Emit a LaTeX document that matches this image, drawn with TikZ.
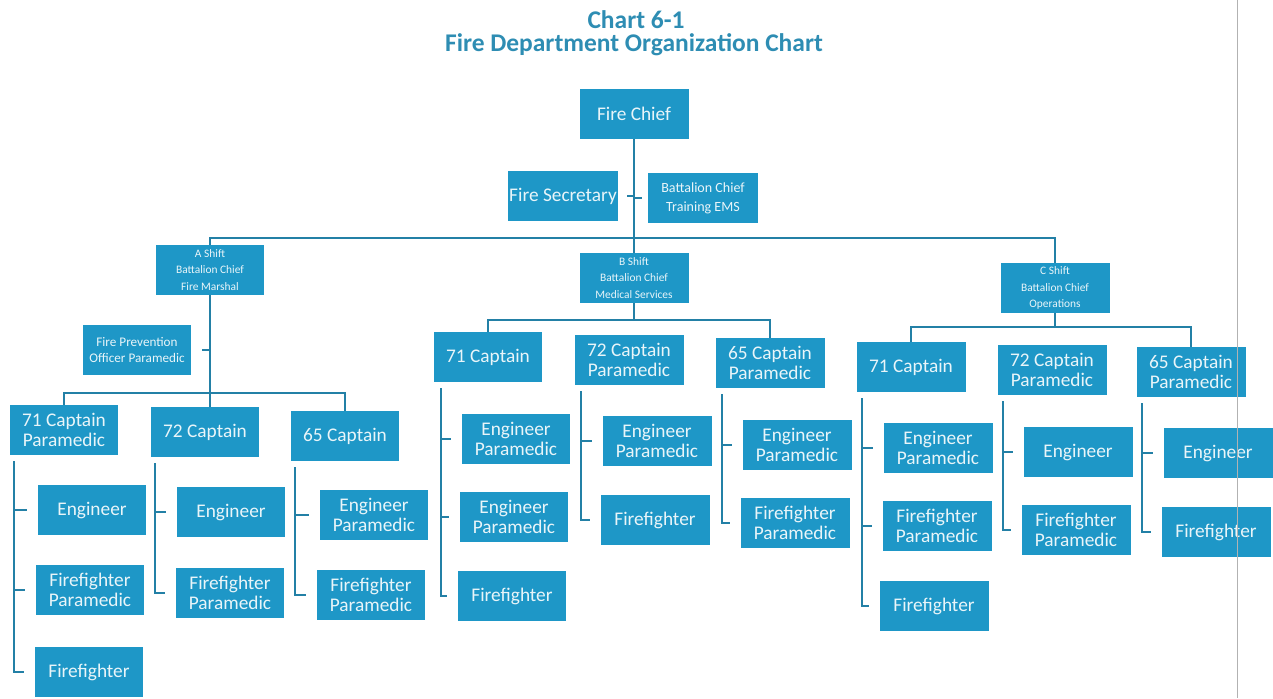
\documentclass[tikz,border=0pt]{standalone}
\usepackage{fontspec}
\setmainfont{Carlito}
\usetikzlibrary{calc}
\definecolor{boxblue}{HTML}{1E97C7}
\definecolor{linkblue}{HTML}{2380A6}
\definecolor{titleblue}{HTML}{2E8DB3}

\begin{document}
\begin{tikzpicture}[x=0.02cm,y=-0.02cm]
 	\tikzstyle{box}=[fill=boxblue, text=white!90!boxblue, minimum width=2.18cm, minimum height=1cm, inner sep=0pt, align=center, font=\fontsize{11}{11.5}\selectfont]
 	\tikzstyle{small}=[font=\fontsize{6.5}{9.5}\selectfont]
 	\tikzstyle{link}=[draw=linkblue, line width=1.5pt]
 	\useasboundingbox (0,0) rectangle (1273,698);
 	% title
 	\node[text=titleblue, font=\bfseries\fontsize{14.5}{16}\selectfont] (title) at (636,20) {Chart 6-1};
 	\node[text=titleblue, font=\bfseries\fontsize{14.5}{16}\selectfont] (subtitle) at (634,45) {Fire Department Organization Chart};
 	% top
 	\node[box] (chief) at (634,114) {Fire Chief};
 	\node[box, minimum width=2.2cm] (secretary) at (563,196) {Fire Secretary};
 	\node[box, minimum width=2.2cm, font=\fontsize{8}{11}\selectfont] (training) at (703,198) {Battalion Chief\\Training EMS};
 	\node[box, small] (ashift) at (210,270) {A Shift\\Battalion Chief\\Fire Marshal};
 	\node[box, small] (bshift) at (634,278) {B Shift\\Battalion Chief\\Medical Services};
 	\node[box, small] (cshift) at (1055,288) {C Shift\\Battalion Chief\\Operations};
 	\coordinate (topbar) at (0,238);
 	\draw[link] (chief.south) -- (bshift.north);
 	\draw[link] (ashift.north) -- (ashift.north |- topbar) -- (cshift.north |- topbar) -- (cshift.north);
 	\draw[link, shorten >=5pt] (chief.south |- secretary.east) -- (secretary.east);
 	\draw[link, shorten >=3pt] (chief.south |- training.west) -- (training.west);
 	% A shift
 	\node[box, font=\fontsize{7.5}{9.5}\selectfont] (aprev) at (137,350) {Fire Prevention\\Officer Paramedic};
 	\node[box] (a71) at (64,430) {71 Captain\\Paramedic};
 	\node[box] (a72) at (205,432) {72 Captain};
 	\node[box] (a65) at (345,436) {65 Captain};
 	\node[box] (a71eng) at (92,510) {Engineer};
 	\node[box] (a71ffp) at (90,590) {Firefighter\\Paramedic};
 	\node[box] (a71ff) at (89,672) {Firefighter};
 	\node[box] (a72eng) at (231,512) {Engineer};
 	\node[box] (a72ffp) at (230,593) {Firefighter\\Paramedic};
 	\node[box] (a65engp) at (374,515) {Engineer\\Paramedic};
 	\node[box] (a65ffp) at (371,595) {Firefighter\\Paramedic};
 	\coordinate (abar) at (0,393);
 	\draw[link] (ashift.south) -- (ashift.south |- a72.north);
 	\draw[link] (a71.north) -- (a71.north |- abar) -- (a65.north |- abar) -- (a65.north);
 	\draw[link, shorten >=6pt] (ashift.south |- aprev.east) -- (aprev.east);
 	\coordinate (a71sp) at ($(a71.south west)+(5,6)$);
 	\coordinate (a72sp) at ($(a72.south west)+(5,6)$);
 	\coordinate (a65sp) at ($(a65.south west)+(5,6)$);
 	\draw[link, shorten >=6pt] (a71sp) |- (a71ff.west);
 	\draw[link, shorten >=6pt] (a71sp |- a71eng.west) -- (a71eng.west);
 	\draw[link, shorten >=6pt] (a71sp |- a71ffp.west) -- (a71ffp.west);
 	\draw[link, shorten >=6pt] (a72sp) |- (a72ffp.west);
 	\draw[link, shorten >=6pt] (a72sp |- a72eng.west) -- (a72eng.west);
 	\draw[link, shorten >=6pt] (a65sp) |- (a65ffp.west);
 	\draw[link, shorten >=6pt] (a65sp |- a65engp.west) -- (a65engp.west);
 	% B shift
 	\node[box] (b71) at (488,357) {71 Captain};
 	\node[box] (b72) at (629,360) {72 Captain\\Paramedic};
 	\node[box] (b65) at (770,363) {65 Captain\\Paramedic};
 	\node[box] (b71engp) at (516,439) {Engineer\\Paramedic};
 	\node[box] (b71engq) at (514,517) {Engineer\\Paramedic};
 	\node[box] (b71ff) at (512,596) {Firefighter};
 	\node[box] (b72engp) at (657,441) {Engineer\\Paramedic};
 	\node[box] (b72ff) at (655,520) {Firefighter};
 	\node[box] (b65engp) at (797,445) {Engineer\\Paramedic};
 	\node[box] (b65ffp) at (795,523) {Firefighter\\Paramedic};
 	\coordinate (bbar) at (0,320);
 	\draw[link] (bshift.south) -- (bshift.south |- bbar);
 	\draw[link] (b71.north) -- (b71.north |- bbar) -- (b65.north |- bbar) -- (b65.north);
 	\coordinate (b71sp) at ($(b71.south west)+(8,6)$);
 	\coordinate (b72sp) at ($(b72.south west)+(7,6)$);
 	\coordinate (b65sp) at ($(b65.south west)+(7,6)$);
 	\draw[link, shorten >=6pt] (b71sp) |- (b71ff.west);
 	\draw[link, shorten >=6pt] (b71sp |- b71engp.west) -- (b71engp.west);
 	\draw[link, shorten >=6pt] (b71sp |- b71engq.west) -- (b71engq.west);
 	\draw[link, shorten >=6pt] (b72sp) |- (b72ff.west);
 	\draw[link, shorten >=6pt] (b72sp |- b72engp.west) -- (b72engp.west);
 	\draw[link, shorten >=6pt] (b65sp) |- (b65ffp.west);
 	\draw[link, shorten >=6pt] (b65sp |- b65engp.west) -- (b65engp.west);
 	% C shift
 	\node[box] (c71) at (911,367) {71 Captain};
 	\node[box] (c72) at (1052,370) {72 Captain\\Paramedic};
 	\node[box] (c65) at (1191,372) {65 Captain\\Paramedic};
 	\node[box] (c71engp) at (938,448) {Engineer\\Paramedic};
 	\node[box] (c71ffp) at (937,526) {Firefighter\\Paramedic};
 	\node[box] (c71ff) at (934,606) {Firefighter};
 	\node[box] (c72eng) at (1078,452) {Engineer};
 	\node[box] (c72ffp) at (1076,530) {Firefighter\\Paramedic};
 	\node[box] (c65eng) at (1218,453) {Engineer};
 	\node[box] (c65ff) at (1216,532) {Firefighter};
 	\coordinate (cbar) at (0,327);
 	\draw[link] (cshift.south) -- (cshift.south |- cbar);
 	\draw[link] (c71.north) -- (c71.north |- cbar) -- (c65.north |- cbar) -- (c65.north);
 	\coordinate (c71sp) at ($(c71.south west)+(6,6)$);
 	\coordinate (c72sp) at ($(c72.south west)+(6,6)$);
 	\coordinate (c65sp) at ($(c65.south west)+(6,6)$);
 	\draw[link, shorten >=6pt] (c71sp) |- (c71ff.west);
 	\draw[link, shorten >=6pt] (c71sp |- c71engp.west) -- (c71engp.west);
 	\draw[link, shorten >=6pt] (c71sp |- c71ffp.west) -- (c71ffp.west);
 	\draw[link, shorten >=6pt] (c72sp) |- (c72ffp.west);
 	\draw[link, shorten >=6pt] (c72sp |- c72eng.west) -- (c72eng.west);
 	\draw[link, shorten >=6pt] (c65sp) |- (c65ff.west);
 	\draw[link, shorten >=6pt] (c65sp |- c65eng.west) -- (c65eng.west);
 	% page edge
 	\draw[gray!60, line width=0.4pt] (1237,0) -- (1237,698);
\end{tikzpicture}
\end{document}
